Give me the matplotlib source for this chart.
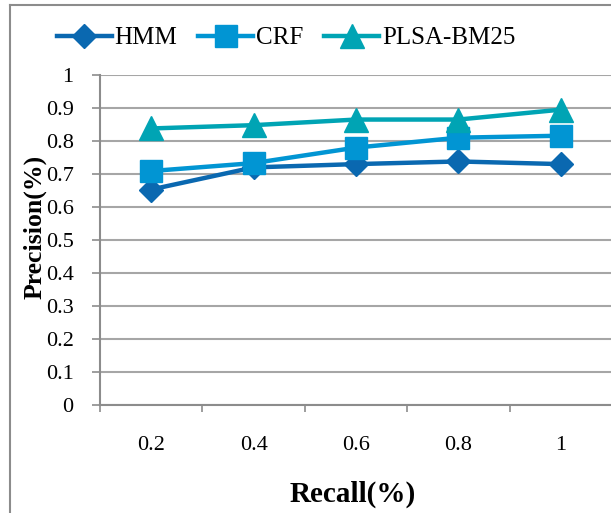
import numpy as np
import matplotlib.pyplot as plt
from matplotlib.lines import Line2D

recall = ['0.2', '0.4', '0.6', '0.8', '1']
hmm = [0.653, 0.72, 0.73, 0.738, 0.73]
crf = [0.709, 0.733, 0.78, 0.81, 0.816]
plsa = [0.838, 0.848, 0.865, 0.865, 0.895]
y_ticks = [0, 0.1, 0.2, 0.3, 0.4, 0.5, 0.6, 0.7, 0.8, 0.9, 1]
y_labels = ['0', '0.1', '0.2', '0.3', '0.4', '0.5', '0.6', '0.7', '0.8', '0.9', '1']

plt.rcParams['font.family'] = ['Liberation Serif', 'DejaVu Serif']

fig = plt.figure(figsize=(6.11, 5.13), dpi=100)
ax = fig.add_axes([100 / 611, 1 - 405 / 513, 512 / 611, 330 / 513])

# outer chart border (only top and left visible in the original crop)
fig.add_artist(Line2D([10 / 611, 10 / 611], [0, 1 - 5 / 513], color='#8c8c8c', lw=1.5))
fig.add_artist(Line2D([10 / 611, 1], [1 - 5 / 513, 1 - 5 / 513], color='#8c8c8c', lw=1.5))

x = np.arange(len(recall))
ax.plot(x, hmm, color='#0A68B0', lw=3.2, marker='D', ms=12, label='HMM', zorder=3)
ax.plot(x, crf, color='#0195D3', lw=3.2, marker='s', ms=16, label='CRF', zorder=4)
ax.plot(x, plsa, color='#00A4B4', lw=3.2, marker='^', ms=17, label='PLSA-BM25', zorder=5)

ax.set_xlim(-0.5, len(recall) - 0.5)
ax.set_ylim(0, 1)
ax.set_yticks(y_ticks)
ax.set_yticklabels(y_labels)
ax.set_xticks(x)
ax.set_xticklabels(recall)
ax.set_xticks(np.arange(len(recall) + 1) - 0.5, minor=True)

ax.yaxis.grid(True, color='#a6a6a6', lw=1.5)
ax.set_axisbelow(True)
for s in ['top', 'right']:
    ax.spines[s].set_visible(False)
for s in ['left', 'bottom']:
    ax.spines[s].set_color('#8c8c8c')
    ax.spines[s].set_linewidth(1.5)

ax.tick_params(axis='y', length=6, width=1.2, color='#8c8c8c', pad=13, labelsize=16)
ax.tick_params(axis='x', which='major', length=0, pad=22, labelsize=16)
ax.tick_params(axis='x', which='minor', length=5, width=1.2, color='#8c8c8c')

ax.set_xlabel('Recall(%)', fontsize=21, fontweight='bold')
ax.xaxis.set_label_coords(0.494, -0.23)
ax.set_ylabel('Precision(%)', fontsize=18.5, fontweight='bold')
ax.yaxis.set_label_coords(-0.105, 0.54)

fig.legend(loc='center', bbox_to_anchor=(0.468, 1 - 38 / 513), ncol=3, frameon=False,
           fontsize=18, handlelength=2.2, handletextpad=0.1, columnspacing=0.85)

plt.savefig('out.png', dpi=100)
